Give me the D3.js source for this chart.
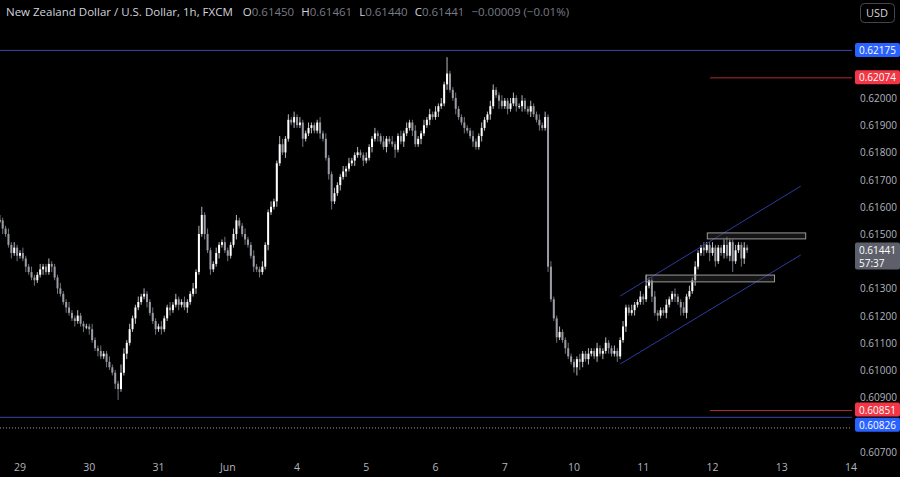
<!DOCTYPE html>
<html>
<head>
<meta charset="utf-8">
<script src="https://cdn.jsdelivr.net/npm/d3@7"></script>
<style>
  body { margin: 0; background: #000; }
  svg { display: block; font-family: "Open Sans", "Noto Sans", sans-serif; }
</style>
</head>
<body>
<div class="chart"></div>
<script>
// hourly closes, NZD/USD (open = previous close)
const closes = [
  0.6155,0.6152,0.6150,0.6146,0.6143,0.6145,0.6142,0.6143,0.6141,0.6138,
  0.6136,0.6134,0.6133,0.6135,0.6137,0.6138,0.6136,0.6139,0.6138,0.6134,
  0.6130,0.6128,0.6125,0.6123,0.6121,0.6119,0.6118,0.6120,0.6117,0.6116,
  0.6116,0.6115,0.6111,0.6108,0.6107,0.6105,0.6106,0.6103,0.6101,0.6099,
  0.6095,0.6093,0.6099,0.6106,0.6110,0.6115,0.6119,0.6123,0.6125,0.6127,
  0.6128,0.6125,0.6121,0.6118,0.6115,0.6116,0.6115,0.6119,0.6123,0.6122,
  0.6124,0.6126,0.6124,0.6125,0.6123,0.6125,0.6128,0.6130,0.6136,0.6150,
  0.6157,0.6150,0.6144,0.6137,0.6139,0.6143,0.6146,0.6147,0.6144,0.6142,
  0.6146,0.6150,0.6155,0.6153,0.6150,0.6148,0.6146,0.6142,0.6138,0.6137,
  0.6136,0.6138,0.6146,0.6158,0.6160,0.6162,0.6176,0.6183,0.6180,0.6185,
  0.6192,0.6191,0.6193,0.6190,0.6191,0.6185,0.6187,0.6189,0.6190,0.6188,
  0.6191,0.6187,0.6185,0.6178,0.6172,0.6162,0.6165,0.6168,0.6171,0.6173,
  0.6174,0.6176,0.6177,0.6179,0.6180,0.6179,0.6177,0.6178,0.6182,0.6185,
  0.6187,0.6186,0.6184,0.6182,0.6185,0.6184,0.6183,0.6181,0.6186,0.6184,
  0.6187,0.6189,0.6191,0.6188,0.6183,0.6185,0.6187,0.6190,0.6192,0.6194,
  0.6193,0.6195,0.6197,0.6198,0.6205,0.6209,0.6203,0.6200,0.6196,0.6193,
  0.6191,0.6189,0.6188,0.6186,0.6184,0.6182,0.6186,0.6189,0.6192,0.6194,
  0.6197,0.6203,0.6201,0.6199,0.6197,0.6199,0.6196,0.6198,0.6200,0.6197,
  0.6197,0.6199,0.6196,0.6195,0.6197,0.6194,0.6192,0.6190,0.6189,0.6193,
  0.6138,0.6126,0.6119,0.6112,0.6114,0.6111,0.6108,0.6105,0.6103,0.6101,
  0.6104,0.6103,0.6106,0.6104,0.6106,0.6107,0.6105,0.6108,0.6106,0.6107,
  0.6110,0.6108,0.6106,0.6107,0.6105,0.6111,0.6116,0.6123,0.6121,0.6122,
  0.6124,0.6125,0.6127,0.6126,0.6131,0.6133,0.6127,0.6121,0.6120,0.6122,
  0.6121,0.6124,0.6126,0.6128,0.6127,0.6125,0.6123,0.6121,0.6127,0.6129,
  0.6133,0.6138,0.6143,0.6145,0.6144,0.6146,0.6143,0.6145,0.6140,0.6145,
  0.6143,0.6146,0.6142,0.6147,0.6140,0.6144,0.6146,0.6141,0.6145,0.6144
];
// upper / lower wick beyond body, in pips
const wickUp = [
  2,1,1,2,1,2,1,1,2,1, 1,2,1,1,2,1,1,2,1,1, 1,2,1,1,2,1,1,2,1,1, 1,1,2,1,1,2,1,1,2,1,
  1,1,3,2,1,2,1,1,2,1, 2,1,1,2,1,1,2,1,1,2, 1,2,1,1,2,1,1,2,1,3, 3,1,2,1,1,2,1,1,2,1,
  1,2,2,1,1,2,1,1,2,1, 1,2,1,1,2,1,1,3,2,1, 2,1,2,1,2,1,1,2,1,1, 1,2,1,2,1,1,2,1,1,2,
  1,2,1,1,2,1,1,2,1,1, 2,1,1,2,1,1,2,1,1,2, 1,2,1,1,2,1,1,2,1,2, 1,2,1,2,1,6,1,1,2,1,
  1,2,1,1,2,1,1,2,1,1, 2,2,1,1,2,1,1,2,2,1, 1,2,1,1,2,1,1,2,1,2, 1,2,1,1,2,1,1,2,1,1,
  1,2,1,1,2,1,1,2,1,1, 2,1,1,2,1,1,2,1,1,2, 1,1,2,1,4,1,1,2,1,1, 1,2,1,1,2,1,1,2,1,2,
  1,2,1,1,2,1,1,2,1,1, 1,2,3,1,1,2,1,1,2,1
];
const wickDown = [
  1,2,1,1,2,1,2,1,1,2, 1,1,2,1,1,2,1,1,2,1, 2,1,1,2,1,1,2,1,1,2, 1,2,1,1,2,1,1,2,1,1,
  2,4,1,1,2,1,1,2,1,1, 1,2,1,1,2,1,2,1,1,2, 1,1,2,1,1,2,1,1,2,1, 1,2,1,2,1,1,2,1,1,2,
  1,1,2,1,1,2,1,1,2,1, 2,1,1,2,1,1,2,1,1,2, 1,1,2,1,1,3,1,1,2,1, 1,2,1,1,2,3,1,1,2,1,
  2,1,1,2,1,1,2,1,1,2, 1,2,1,1,2,1,1,3,1,1, 2,1,1,2,1,1,2,1,1,2, 1,1,2,1,1,2,1,1,2,1,
  1,2,1,1,2,1,1,2,1,1, 2,1,1,3,1,1,2,1,1,2, 1,2,1,1,2,1,1,2,1,1, 2,1,1,2,1,1,2,1,1,2,
  3,3,2,1,2,1,1,2,1,2, 1,2,1,1,2,1,1,2,1,1, 2,1,1,2,1,1,2,1,2,1, 1,2,1,1,2,1,3,1,2,1,
  1,2,1,1,2,1,3,1,2,1, 1,2,1,2,4,1,1,3,2,1
];
const dayLabels = ['29','30','31','Jun','4','5','6','7','10','11','12','13','14'];
const dayStarts = [7,31,55,79,103,127,151,175,199,223,247,271,295];
const priceTicks = [0.622,0.621,0.620,0.619,0.618,0.617,0.616,0.615,0.614,0.613,0.612,0.611,0.610,0.609,0.608,0.607];
const fullLines = [0.62175, 0.60826];
const shortLines = [0.62074, 0.60851];
const prevClose = 0.60787;
const lastPrice = 0.61441;
// channel [index, price] pairs
const channelUpper = [[215, 0.61272], [277.6, 0.61676]];
const channelLower = [[215, 0.61022], [277.6, 0.61423]];
// zones [i0, i1, priceTop, priceBottom]
const zones = [[245.2, 279.3, 0.61504, 0.61482], [224, 268.5, 0.61349, 0.61324]];

const width = 900, height = 477, axisX = 852;

const x = d3.scaleLinear().domain([7, 295]).range([20, 851]);
const y = d3.scaleLinear().domain([0.610, 0.620]).range([370, 98]);
const pip = 0.0001;

const svg = d3.select('.chart').append('svg')
  .attr('width', width).attr('height', height);
svg.append('rect').attr('width', width).attr('height', height).attr('fill', '#000');

const plot = svg.append('g');

// horizontal levels
plot.selectAll('.full').data(fullLines).enter().append('line')
  .attr('x1', 0).attr('x2', axisX)
  .attr('y1', d => y(d)).attr('y2', d => y(d))
  .attr('stroke', '#3c45a8').attr('stroke-width', 1);
plot.selectAll('.short').data(shortLines).enter().append('line')
  .attr('x1', 710).attr('x2', axisX)
  .attr('y1', d => y(d)).attr('y2', d => y(d))
  .attr('stroke', '#b02a35').attr('stroke-width', 1);
plot.append('line')
  .attr('x1', 0).attr('x2', axisX)
  .attr('y1', y(prevClose)).attr('y2', y(prevClose))
  .attr('stroke', '#9a9a9a').attr('stroke-dasharray', '1,2');

// candles
const candles = closes.map((c, i) => {
  const o = i === 0 ? c : closes[i - 1];
  return {
    i, o, c,
    h: Math.max(o, c) + wickUp[i] * pip,
    l: Math.min(o, c) - wickDown[i] * pip
  };
});
const cg = plot.append('g');
cg.selectAll('.wick').data(candles).enter().append('line')
  .attr('x1', d => x(d.i)).attr('x2', d => x(d.i))
  .attr('y1', d => y(d.h)).attr('y2', d => y(d.l))
  .attr('stroke', d => d.c >= d.o ? '#e8e8e8' : '#8f929b')
  .attr('stroke-width', 0.8);
cg.selectAll('.body').data(candles).enter().append('rect')
  .attr('x', d => x(d.i) - 1)
  .attr('width', 2)
  .attr('y', d => y(Math.max(d.o, d.c)))
  .attr('height', d => Math.max(1, Math.abs(y(d.o) - y(d.c))))
  .attr('fill', d => d.c >= d.o ? '#ffffff' : '#9a9da6');

// channel
[channelUpper, channelLower].forEach(seg => {
  plot.append('line')
    .attr('x1', x(seg[0][0])).attr('y1', y(seg[0][1]))
    .attr('x2', x(seg[1][0])).attr('y2', y(seg[1][1]))
    .attr('stroke', '#2d3aa0').attr('stroke-width', 1);
});

// zones
plot.selectAll('.zone').data(zones).enter().append('rect')
  .attr('x', d => x(d[0])).attr('width', d => x(d[1]) - x(d[0]))
  .attr('y', d => y(d[2])).attr('height', d => y(d[3]) - y(d[2]))
  .attr('fill', 'rgba(60,60,60,0.35)').attr('stroke', '#9a9a9a').attr('stroke-width', 1);

// right axis tags (the two lower ones are stacked so they don't collide)
const tags = [
  {p: 0.62175, shift: 0, bg: '#2962ff', t: ['0.62175']},
  {p: 0.62074, shift: 0, bg: '#f23645', t: ['0.62074']},
  {p: 0.60851, shift: -0.5, bg: '#f23645', t: ['0.60851']},
  {p: 0.60826, shift: 8, bg: '#2962ff', t: ['0.60826']},
  {p: lastPrice, shift: 0, bg: '#5d606b', t: [d3.format('.5f')(lastPrice), '57:37']}
];
const ax = svg.append('g');
const tagY = tags.map(d => y(d.p) + d.shift);
ax.selectAll('.tick')
  .data(priceTicks.filter(p => tagY.every((ty, k) => {
    const h = tags[k].t.length * 13;
    return y(p) <= ty - 12 || y(p) > ty + h;
  })))
  .enter().append('text')
  .attr('x', 860).attr('y', d => y(d) + 4)
  .attr('fill', '#b2b5be').attr('font-size', 10)
  .text(d => d3.format('.5f')(d));

tags.forEach((d, j) => {
  const h = d.t.length * 13 + 1;
  ax.append('rect').attr('x', axisX + 3).attr('y', tagY[j] - 7.5)
    .attr('width', 45).attr('height', h).attr('rx', 2).attr('fill', d.bg);
  d.t.forEach((s, k) => {
    ax.append('text').attr('x', 859).attr('y', tagY[j] + 3.5 + k * 13)
      .attr('fill', '#fff').attr('font-size', 10).text(s);
  });
});

// bottom axis
svg.selectAll('.day').data(dayStarts).enter().append('text')
  .attr('x', d => x(d)).attr('y', 471)
  .attr('text-anchor', 'middle').attr('fill', '#b2b5be').attr('font-size', 10.5)
  .text((d, i) => dayLabels[i]);

// header
const head = svg.append('text').attr('x', 6).attr('y', 16).attr('font-size', 11.5);
head.append('tspan').attr('fill', '#d1d4dc').text('New Zealand Dollar / U.S. Dollar, 1h, FXCM');
[['O', '0.61450'], ['H', '0.61461'], ['L', '0.61440'], ['C', '0.61441']].forEach(([k, v], i) => {
  head.append('tspan').attr('dx', i === 0 ? 10 : 7).attr('fill', '#d1d4dc').text(k);
  head.append('tspan').attr('fill', '#787b86').text(v);
});
head.append('tspan').attr('dx', 7).attr('fill', '#787b86').text('−0.00009 (−0.01%)');

// currency button
svg.append('rect').attr('x', 860.5).attr('y', 3.5).attr('width', 34).attr('height', 19)
  .attr('rx', 4).attr('fill', 'none').attr('stroke', '#434651');
svg.append('text').attr('x', 877).attr('y', 17).attr('text-anchor', 'middle')
  .attr('fill', '#d1d4dc').attr('font-size', 11).text('USD');
</script>
</body>
</html>
